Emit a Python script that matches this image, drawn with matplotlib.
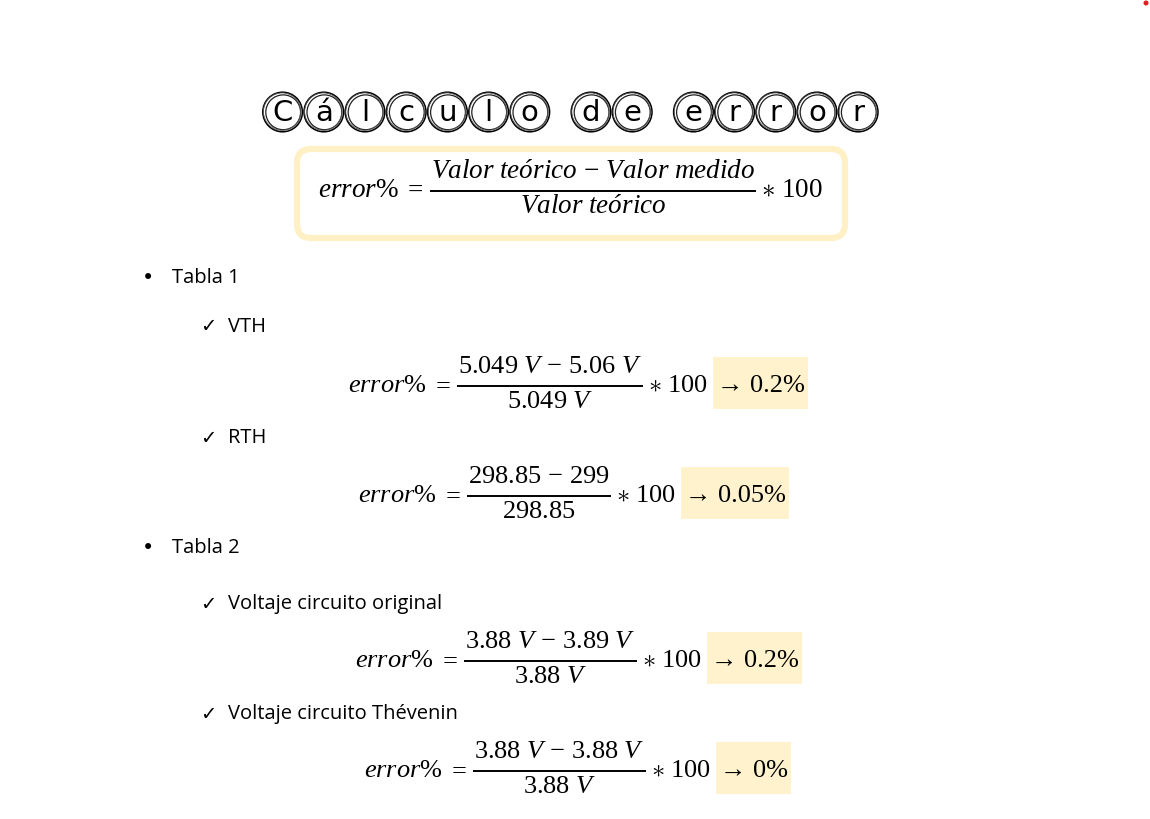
import matplotlib
matplotlib.use("Agg")
import matplotlib.pyplot as plt
from matplotlib.patches import Circle, Rectangle, FancyBboxPatch

plt.rcParams['mathtext.fontset'] = 'custom'
plt.rcParams['mathtext.rm'] = 'Liberation Serif'
plt.rcParams['mathtext.it'] = 'Liberation Serif:italic'
plt.rcParams['mathtext.bf'] = 'Liberation Serif:bold'

# page content
title_words = ['Cálculo', 'de', 'error']
general_num = r'Valor\ teórico\,-\,Valor\ medido'
general_den = r'Valor\ teórico'

sections = ['Tabla 1', 'Tabla 2']
items = ['VTH', 'RTH', 'Voltaje circuito original', 'Voltaje circuito Thévenin']
numerators = [r'5.049\ V\,-\,5.06\ V', r'298.85\,-\,299', r'3.88\ V\,-\,3.89\ V', r'3.88\ V\,-\,3.88\ V']
denominators = [r'5.049\ V', r'298.85', r'3.88\ V', r'3.88\ V']
results = ['0.2', '0.05', '0.2', '0']

# layout (pixels from top-left)
section_y = [278, 548]
item_y = [327, 438, 604, 714]
formula_y = [385, 495, 660, 770]
formula_x = [348, 358, 355, 364]

W, H = 1150, 819
fig = plt.figure(figsize=(W / 100, H / 100), dpi=100)
ax = fig.add_axes([0, 0, 1, 1])
ax.set_xlim(0, W)
ax.set_ylim(H, 0)
ax.axis('off')
renderer = fig.canvas.get_renderer()

def width_of(t):
    return t.get_window_extent(renderer).width

def draw_fraction(x_left, y, num, den, result=None, size=19):
    t1 = ax.text(x_left, y, r'$error\%$', ha='left', va='center', fontsize=size)
    x = x_left + width_of(t1) + 5
    t2 = ax.text(x, y, r'$=$', ha='left', va='center', fontsize=size)
    x += width_of(t2) + 6
    tn = ax.text(0, y - 19, '$' + num + '$', ha='center', va='center', fontsize=size)
    td = ax.text(0, y + 16, '$' + den + '$', ha='center', va='center', fontsize=size)
    bw = max(width_of(tn), width_of(td)) + 2
    cx = x + bw / 2
    tn.set_x(cx)
    td.set_x(cx)
    ax.plot([x, x + bw], [y + 1, y + 1], color='black', lw=1.4, solid_capstyle='butt')
    x += bw + 5
    t3 = ax.text(x, y, r'$\ast\ 100$', ha='left', va='center', fontsize=size)
    x += width_of(t3)
    if result is not None:
        x += 9
        t4 = ax.text(x, y + 1, '→ ' + result + '%', ha='left', va='center',
                     fontsize=size, family=['Liberation Serif', 'DejaVu Serif'], zorder=3)
        rw = width_of(t4)
        ax.add_patch(Rectangle((x - 4, y - 28), rw + 7, 52, facecolor='#FFF2CC',
                               edgecolor='none', zorder=1))

# title: letters in double rings
step = 41.2
x = 262
for word in title_words:
    for ch in word:
        cx = x + step / 2
        ax.add_patch(Circle((cx, 112), 19.8, fill=False, lw=1.1, ec='black'))
        ax.add_patch(Circle((cx + 0.6, 112.3), 17.4, fill=False, lw=0.9, ec='#222222'))
        ax.add_patch(Circle((cx - 0.5, 111.6), 18.7, fill=False, lw=0.6, ec='#555555'))
        ax.text(cx, 113, ch, ha='center', va='center', fontsize=21,
                family='DejaVu Sans', color='black')
        x += step
    x += 20

# general formula box
ax.add_patch(FancyBboxPatch((297, 149), 548, 89, boxstyle='round,pad=0,rounding_size=14',
                            facecolor='white', edgecolor='#FFF0C6', lw=4.5))
draw_fraction(318, 190, general_num, general_den, size=19.5)

# bullets
body = dict(family=['Open Sans', 'DejaVu Sans'], fontsize=14.5, va='center')
for i, s in enumerate(sections):
    ax.text(148, section_y[i], '•', ha='center', family='DejaVu Sans', fontsize=15, va='center')
    ax.text(172, section_y[i], s, ha='left', **body)

for i, it in enumerate(items):
    ax.text(208, item_y[i], '✓', ha='center', family='DejaVu Sans', fontsize=14, va='center')
    ax.text(228, item_y[i], it, ha='left', **body)
    draw_fraction(formula_x[i], formula_y[i], numerators[i], denominators[i], results[i])

ax.add_patch(Circle((1146, 3), 1.8, color='#e02020'))

fig.savefig('out.png', dpi=100)
